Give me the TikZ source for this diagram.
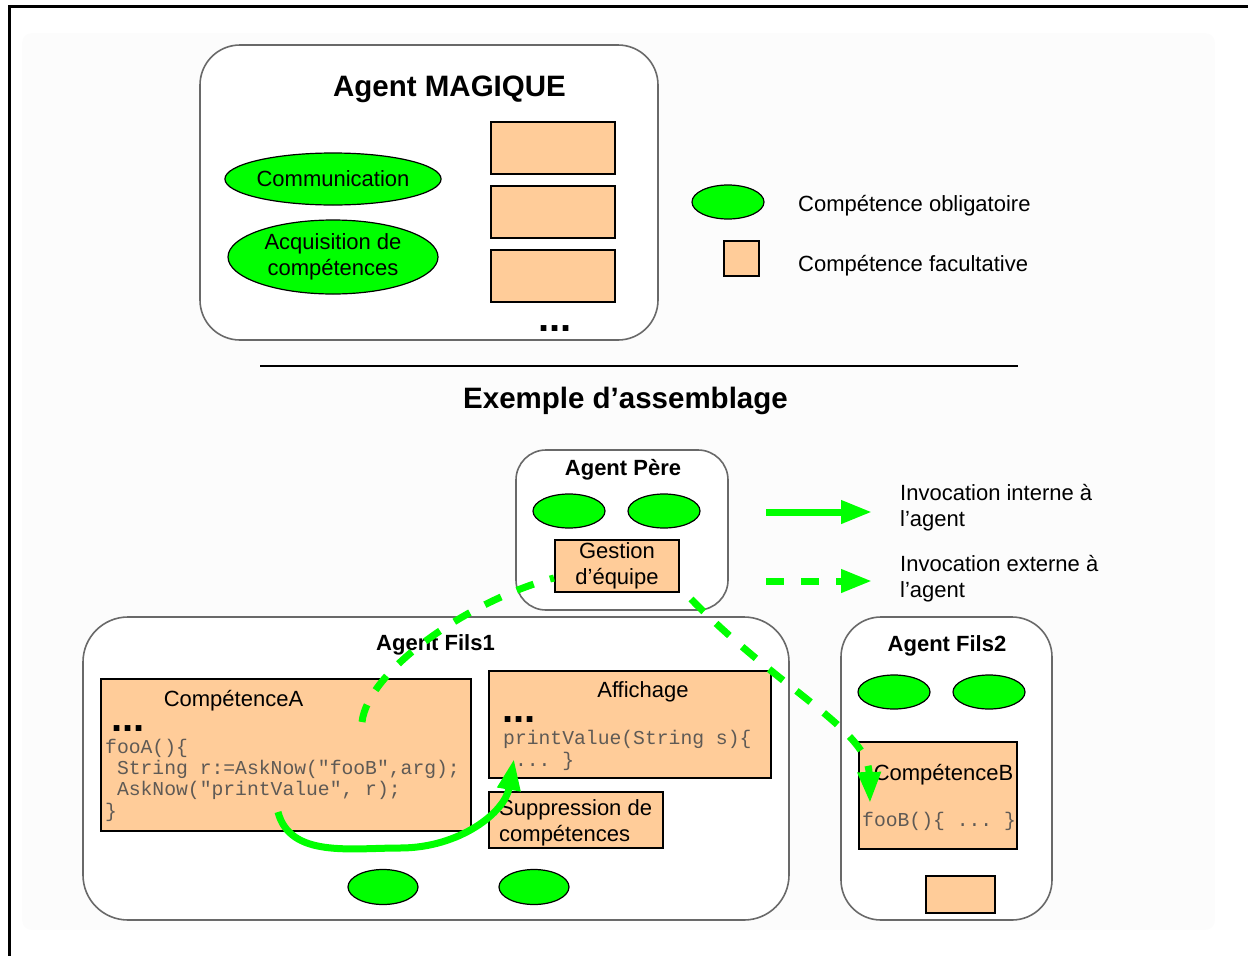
\documentclass[tikz,border=0pt]{standalone}
\usepackage{fontspec}
\setmainfont{Liberation Sans}
\setmonofont{Liberation Mono}
\usetikzlibrary{arrows.meta,shapes.geometric}
\definecolor{vert}{RGB}{0,255,0}
\definecolor{peche}{RGB}{255,204,153}
\definecolor{bord}{RGB}{105,105,105}
\definecolor{codegris}{RGB}{95,90,85}
\newcommand{\texte}{\fontsize{22}{25.5}\selectfont}
\tikzset{
  agent/.style={draw=bord,line width=1.6pt,fill=white,rounded corners=#1pt},
  agent/.default=40,
  oblig/.style={ellipse,draw,line width=1.2pt,fill=vert,minimum width=72pt,minimum height=34pt},
  facul/.style={rectangle,draw,line width=2pt,fill=peche,minimum width=124pt,minimum height=52pt},
  titre/.style={font=\fontsize{29.5}{34}\selectfont\bfseries},
  stitre/.style={font=\fontsize{22}{26}\selectfont\bfseries},
  code/.style={font=\fontsize{19.7}{21.3}\selectfont\ttfamily,text=codegris},
  points/.style={font=\fontsize{40}{40}\selectfont\bfseries},
  interne/.style={draw=vert,line width=7pt,-{Triangle[length=31pt,width=22pt]}},
  externe/.style={interne,dash pattern=on 18pt off 17pt}
}
\begin{document}
\begin{tikzpicture}[x=1pt,y=-1pt,font=\texte,inner sep=0pt]
  \useasboundingbox (0,0) rectangle (1248,956);
  \fill[black!1,rounded corners=10pt] (22,33) rectangle (1215,930);
  \draw[line width=3.5pt] (9.5,956) -- (9.5,6.5) -- (1248,6.5);

  \node[agent=40,minimum width=458pt,minimum height=295pt] (magique) at (429,192.5) {};
  \node[titre,anchor=base] (tmagique) at (449.5,96) {Agent MAGIQUE};
  \node[oblig,minimum width=210pt,minimum height=52pt] (comm) at (333,179) {Communication};
  \node[oblig,minimum width=210pt,minimum height=74pt,align=center] (acqu) at (333,257) {Acquisition de\\compétences};
  \node[facul] (fa) at (553,147.5) {};
  \node[facul] (fb) at (553,212) {};
  \node[facul] (fc) at (553,276) {};
  \node[points,anchor=base] (pm) at (555,331) {...};

  \node[oblig] (leob) at (728,202) {};
  \node[anchor=base west] (tob) at (798,211) {Compétence obligatoire};
  \node[facul,minimum width=35pt,minimum height=35pt] (lefa) at (741.5,258.5) {};
  \node[anchor=base west] (tfa) at (798,271) {Compétence facultative};

  \draw[line width=2pt] (260,366) -- (1018,366);
  \node[titre,anchor=base] (texemple) at (625.5,408) {Exemple d'assemblage};

  \node[agent=30,minimum width=212pt,minimum height=160pt] (pere) at (622,530) {};
  \node[stitre,anchor=base] (tpere) at (623,475) {Agent Père};
  \node[oblig] (pa) at (569,511) {};
  \node[oblig] (pb) at (664,511) {};
  \node[facul,align=center] (gestion) at (617,566) {Gestion\\d'équipe};

  \node[agent=45,minimum width=706pt,minimum height=303pt] (fils1) at (436,768.5) {};
  \node[stitre,anchor=base] (tfils1) at (435.5,650) {Agent Fils1};
  \node[facul,minimum width=370pt,minimum height=152pt] (compA) at (286,755) {};
  \node[anchor=base] (tcompA) at (233.5,706) {CompétenceA};
  \node[points,anchor=base west] (pA) at (111,731) {...};
  \node[code,anchor=base west,align=left] (codeA) at (105,817)
    {fooA()\{\\~String r:=AskNow("fooB",arg);\\~AskNow("printValue", r);\\\}};
  \node[facul,minimum width=282pt,minimum height=107pt] (affich) at (630,724.5) {};
  \node[anchor=base] (taffich) at (643,697) {Affichage};
  \node[points,anchor=base west] (pAff) at (502,722) {...};
  \node[code,anchor=base west,align=left] (codeAff) at (503,766) {printValue(String s)\{\\~... \}};
  \node[facul,minimum width=174pt,minimum height=56pt] (suppr) at (576,820) {};
  \node[anchor=base west,align=left] (tsuppr) at (499,841) {Suppression de\\compétences};
  \node[oblig,minimum width=70pt,minimum height=35pt] (fa1) at (383,887) {};
  \node[oblig,minimum width=70pt,minimum height=35pt] (fa2) at (534,887) {};

  \node[agent=40,minimum width=211pt,minimum height=303pt] (fils2) at (946.5,768.5) {};
  \node[stitre,anchor=base] (tfils2) at (947,651) {Agent Fils2};
  \node[oblig] (fb1) at (894,692) {};
  \node[oblig] (fb2) at (989,692) {};
  \node[facul,minimum width=158pt,minimum height=107pt] (compB) at (938,795.5) {};
  \node[anchor=base] (tcompB) at (943.5,780) {CompétenceB};
  \node[code,anchor=base west] (codeB) at (862,826) {fooB()\{ ... \}};
  \node[facul,minimum width=69pt,minimum height=37pt] (fb3) at (960.5,894.5) {};

  \coordinate (li1) at (766,512);
  \coordinate (li2) at (872,512);
  \draw[interne] (li1) -- (li2);
  \coordinate (le1) at (766,581);
  \coordinate (le2) at (872,581);
  \draw[externe] (le1) -- (le2);
  \node[anchor=base west,align=left] (tint) at (900,526) {Invocation interne à\\l'agent};
  \node[anchor=base west,align=left] (text) at (900,597) {Invocation externe à\\l'agent};

  \coordinate (appelB) at (362,722);
  \coordinate (recvB) at (870,803);
  \draw[externe,-] (appelB) .. controls (368,670) and (470,600) .. ([yshift=-12pt]gestion.west);
  \draw[externe] ([xshift=11pt,yshift=-6pt]gestion.south east) .. controls (780,690) and (868,730) .. (recvB);
  \coordinate (appelP) at (278,812);
  \coordinate (recvP) at (514,759);
  \draw[interne] (appelP) .. controls (290,858) and (350,848) .. (400,848)
    .. controls (460,848) and (505,812) .. (recvP);
\end{tikzpicture}
\end{document}
